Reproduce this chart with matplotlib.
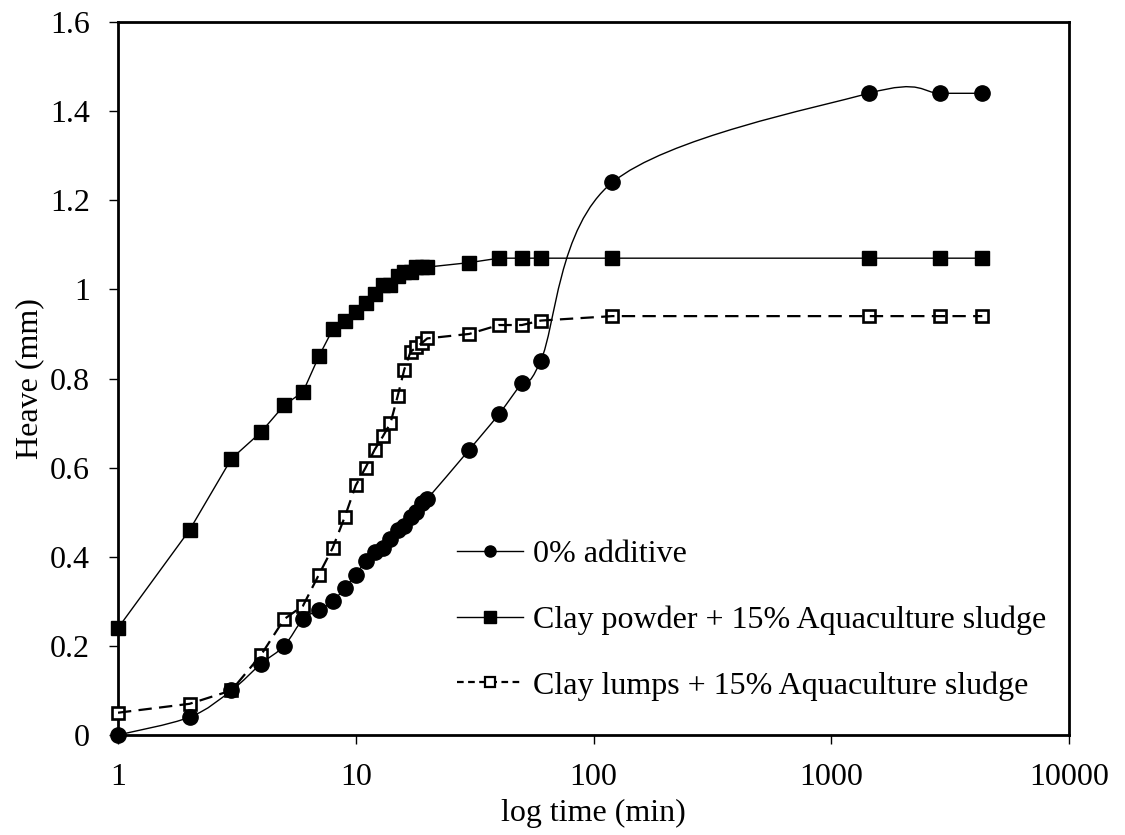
import numpy as np
import matplotlib
matplotlib.use("Agg")
import matplotlib.pyplot as plt
from matplotlib.lines import Line2D
from matplotlib.path import Path
from matplotlib.patches import PathPatch
from matplotlib.transforms import IdentityTransform

plt.rcParams['font.family'] = ['Liberation Serif', 'DejaVu Serif']

time_min = [1, 2, 3, 4, 5, 6, 7, 8, 9, 10, 11, 12, 13, 14, 15, 16, 17, 18, 19, 20,
            30, 40, 50, 60, 120, 1440, 2880, 4320]
heave_0pct = [0.00, 0.04, 0.10, 0.16, 0.20, 0.26, 0.28, 0.30, 0.33, 0.36, 0.39, 0.41,
              0.42, 0.44, 0.46, 0.47, 0.49, 0.50, 0.52, 0.53,
              0.64, 0.72, 0.79, 0.84, 1.24, 1.44, 1.44, 1.44]
heave_powder = [0.24, 0.46, 0.62, 0.68, 0.74, 0.77, 0.85, 0.91, 0.93, 0.95, 0.97, 0.99,
                1.01, 1.01, 1.03, 1.04, 1.04, 1.05, 1.05, 1.05,
                1.06, 1.07, 1.07, 1.07, 1.07, 1.07, 1.07, 1.07]
heave_lumps = [0.05, 0.07, 0.10, 0.18, 0.26, 0.29, 0.36, 0.42, 0.49, 0.56, 0.60, 0.64,
               0.67, 0.70, 0.76, 0.82, 0.86, 0.87, 0.88, 0.89,
               0.90, 0.92, 0.92, 0.93, 0.94, 0.94, 0.94, 0.94]
labels = ["0% additive", "Clay powder + 15% Aquaculture sludge",
          "Clay lumps + 15% Aquaculture sludge"]
x_ticks = [1, 10, 100, 1000, 10000]
y_ticks = [0, 0.2, 0.4, 0.6, 0.8, 1.0, 1.2, 1.4, 1.6]

FS = 23

fig = plt.figure(figsize=(11.25, 8.35), dpi=100)
ax = fig.add_axes([118/1125, 1-735/835, (1069-118)/1125, (735-22)/835])
ax.set_xscale('log')
ax.set_xlim(1, 10000)
ax.set_ylim(0, 1.6)
ax.set_xticks(x_ticks)
ax.set_xticklabels([str(t) for t in x_ticks])
ax.set_yticks(y_ticks)
ax.set_yticklabels([f"{t:g}" for t in y_ticks])
ax.minorticks_off()
ax.tick_params(axis='both', direction='out', length=6.5, width=1.0, labelsize=FS,
               pad=13.5, top=False, right=False)
for s in ax.spines.values():
    s.set_linewidth(2.0)
ax.set_xlabel("log time (min)", fontsize=FS, labelpad=5)
ax.set_ylabel("Heave (mm)", fontsize=FS, labelpad=4.5)

# Smoothed (Excel-like) line for the 0% series, computed in display space
fig.canvas.draw()
pts = ax.transData.transform(np.column_stack([time_min, heave_0pct]))
verts = [tuple(pts[0])]
codes = [Path.MOVETO]
n = len(pts)
for i in range(n - 1):
    p0 = pts[i - 1] if i > 0 else pts[i]
    p1 = pts[i]
    p2 = pts[i + 1]
    p3 = pts[i + 2] if i + 2 < n else pts[i + 1]
    c1 = p1 + (p2 - p0) / 6.0
    c2 = p2 - (p3 - p1) / 6.0
    verts += [tuple(c1), tuple(c2), tuple(p2)]
    codes += [Path.CURVE4] * 3
patch = PathPatch(Path(verts, codes), facecolor='none', edgecolor='black', lw=1.0,
                  zorder=2)
patch.set_transform(IdentityTransform())
ax.add_artist(patch)
ax.plot(time_min, heave_0pct, linestyle='none', marker='o', ms=11,
        color='black', zorder=4, clip_on=False)

# Clay powder
ax.plot(time_min, heave_powder, '-', color='black', lw=1.0, marker='s', ms=10.5,
        zorder=4, clip_on=False)

# Clay lumps: open squares, dashed line drawn on top
ax.plot(time_min, heave_lumps, linestyle='none', marker='s', ms=8.3,
        markerfacecolor='white', markeredgecolor='black', markeredgewidth=1.9,
        zorder=3, clip_on=False)
ax.plot(time_min, heave_lumps, color='black', lw=1.6, linestyle=(0, (6, 3.3)),
        zorder=3.5)

handles = [
    Line2D([], [], color='black', lw=1.0, marker='o', ms=8),
    Line2D([], [], color='black', lw=1.0, marker='s', ms=8),
    Line2D([], [], color='black', lw=1.6, linestyle=(0, (3, 2)), marker='s', ms=6.5,
           markerfacecolor='white', markeredgewidth=1.6),
]
leg = ax.legend(handles, labels, loc='upper left',
                bbox_to_anchor=(457/1125, 1-540/835), bbox_transform=fig.transFigure,
                frameon=False, fontsize=FS, handlelength=2.06, handletextpad=0.31,
                labelspacing=1.13, borderpad=0, borderaxespad=0)

fig.savefig("out.png", dpi=100)
